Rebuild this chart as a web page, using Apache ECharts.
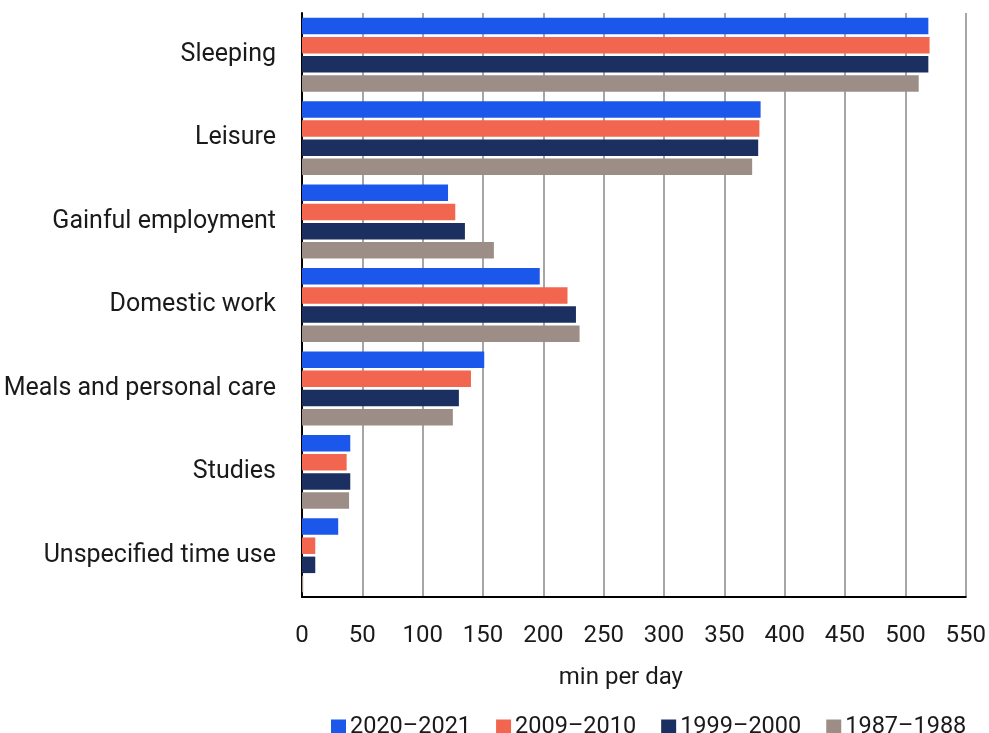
<!DOCTYPE html>
<html><head><meta charset="utf-8">
<script src="https://cdn.jsdelivr.net/npm/echarts@6/dist/echarts.min.js"></script>
<style>html,body{margin:0;padding:0;background:#fff}#c{width:989px;height:733px}</style>
</head><body><div id="c"></div>
<script>
const categories = ["Sleeping","Leisure","Gainful employment","Domestic work","Meals and personal care","Studies","Unspecified time use"];
const seriesNames = ["2020–2021","2009–2010","1999–2000","1987–1988"];
const v2020 = [519, 380, 121, 197, 151, 40, 30];
const v2009 = [520, 379, 127, 220, 140, 37, 11];
const v1999 = [519, 378, 135, 227, 130, 40, 11];
const v1987 = [511, 373, 159, 230, 125, 39, 1];
const xTicks = [0,50,100,150,200,250,300,350,400,450,500,550];
const colors = ["#1b57eb","#f2654e","#1b3060","#9c8e87"];
const FONT = "Roboto";
const chart = echarts.init(document.getElementById('c'), null, {renderer:'canvas'});
const data = [v2020, v2009, v1999, v1987];
chart.setOption({
  animation:false,
  textStyle:{fontFamily:FONT},
  grid:{left:302, right:23, top:13, bottom:136},
  legend:{
    data: seriesNames, top:710, left:326,
    icon:'rect', itemWidth:15, itemHeight:15, itemGap:25,
    textStyle:{fontFamily:FONT, fontSize:23.5, color:'#1a1a1a', padding:[0,0,0,-1]}
  },
  xAxis:{
    type:'value', min:xTicks[0], max:xTicks[xTicks.length-1], interval:50,
    name:'min per day', nameLocation:'middle', nameGap:69,
    nameTextStyle:{fontFamily:FONT, fontSize:24, color:'#1a1a1a', padding:[0,26,0,0]},
    axisLine:{show:true, lineStyle:{color:'#000', width:2}},
    axisTick:{show:false},
    axisLabel:{fontFamily:FONT, fontSize:24, color:'#1a1a1a', margin:27},
    splitLine:{show:true, lineStyle:{color:'#888', width:1.5}}
  },
  yAxis:{
    type:'category', data:categories, inverse:true,
    axisLine:{show:true, lineStyle:{color:'#000', width:2}},
    axisTick:{show:false},
    axisLabel:{fontFamily:FONT, fontSize:25, color:'#1a1a1a', margin:26, padding:[6,0,0,0]}
  },
  series: seriesNames.map((n,i)=>({
    name:n, type:'bar', data:data[i], barWidth:16.5, barGap:'16%',
    itemStyle:{color:colors[i]}
  }))
});
</script></body></html>
